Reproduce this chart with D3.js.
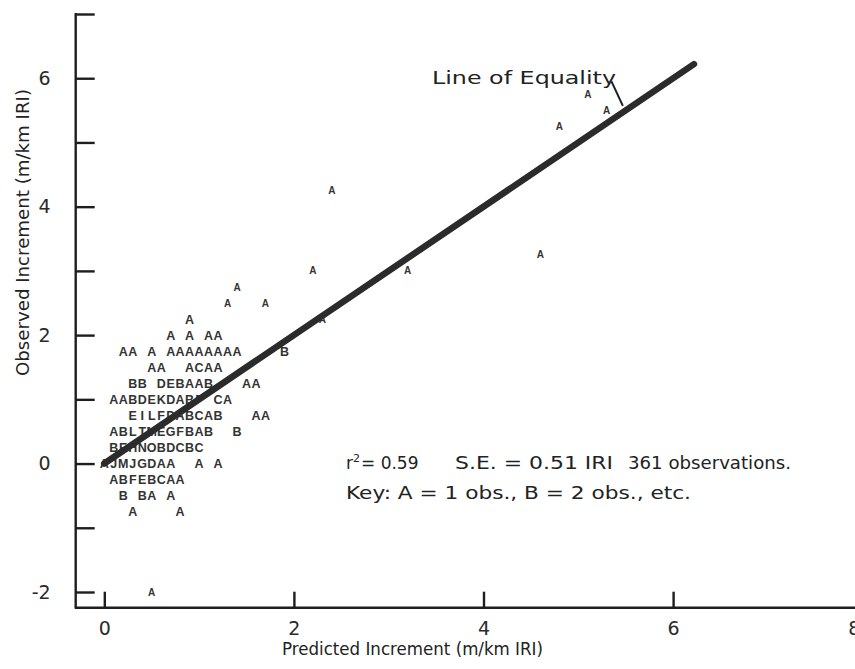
<!DOCTYPE html>
<html><head><meta charset="utf-8">
<script src="https://cdn.jsdelivr.net/npm/d3@7"></script>
<style>body{margin:0;background:#fff} svg{display:block}</style>
</head><body><svg id="c" width="855" height="669"></svg>
<script>
// ---- data ----
const xTickValues = [0, 2, 4, 6, 8];
const xTickLabels = ["0", "2", "4", "6", "8"];
const yTickValues = [-2, -1, 0, 1, 2, 3, 4, 5, 6, 7];
const yTickLabels = ["-2", "", "0", "", "2", "", "4", "", "6", ""];
// line-printer rows: observed value, predicted value of first column, codes (space = empty cell, column step 0.1)
const rowObserved = [2.75, 2.5, 2.25, 2.0, 1.75, 1.5, 1.25, 1.0, 0.75, 0.5, 0.25, 0.0, -0.25, -0.5, -0.75, -2.0];
const rowStartPredicted = [1.4, 1.3, 0.9, 0.7, 0.2, 0.5, 0.3, 0.1, 0.3, 0.1, 0.1, 0.0, 0.1, 0.2, 0.3, 0.5];
const rowCodes = ["A", "A   A", "A", "A A AA", "AA A AAAAAAAA    B", "AA  ACAA", "BB DEBAAB   AA",
  "AABDEKDABF CA", "EILFDABCAB   AA", "ABLTMEGFBAB  B", "BEHNOBDCBC", "AJMJGDAA  A A",
  "ABFEBCAA", "B BA A", "A    A", "A"];
const columnStep = 0.1;
// isolated points
const outlierPredicted = [2.3, 2.2, 3.2, 2.4, 4.6, 4.8, 5.3, 5.1];
const outlierObserved = [2.25, 3.0, 3.0, 4.25, 3.25, 5.25, 5.5, 5.75];
const outlierCodes = ["A", "A", "A", "A", "A", "A", "A", "A"];
const equalityEnds = [0, 6.22];

// ---- chart ----
const svg = d3.select("#c");
const x = d3.scaleLinear().domain([0, 8]).range([104.3, 862.7]);
const y = d3.scaleLinear().domain([-2, 7]).range([592, 14]);
const axisX = 75.7, axisY = 607.7;
const ink = "#1e1e1e";
const labelFont = "'DejaVu Sans', sans-serif";

// axis lines
svg.append("line").attr("x1", axisX).attr("x2", axisX).attr("y1", y(7) - 1).attr("y2", axisY)
  .attr("stroke", ink).attr("stroke-width", 2.4);
svg.append("line").attr("x1", axisX - 1).attr("x2", 855).attr("y1", axisY).attr("y2", axisY)
  .attr("stroke", ink).attr("stroke-width", 2.4);

// y axis ticks (pointing inward)
const yAxis = d3.axisLeft(y).tickValues(yTickValues)
  .tickFormat((d, i) => yTickLabels[i]).tickSizeInner(-19).tickSizeOuter(0).tickPadding(25);
const gy = svg.append("g").attr("transform", `translate(${axisX},0)`).call(yAxis);
gy.select(".domain").remove();
gy.selectAll(".tick line").attr("stroke", ink).attr("stroke-width", 2.4);
gy.selectAll(".tick text").attr("fill", "#2a2a2a").style("font-family", labelFont).style("font-size", "19px");

// x axis ticks (pointing inward)
const xAxis = d3.axisBottom(x).tickValues(xTickValues)
  .tickFormat((d, i) => xTickLabels[i]).tickSizeInner(-16).tickSizeOuter(0).tickPadding(14);
const gx = svg.append("g").attr("transform", `translate(0,${axisY})`).call(xAxis);
gx.select(".domain").remove();
gx.selectAll(".tick line").attr("stroke", ink).attr("stroke-width", 2.4);
gx.selectAll(".tick text").attr("fill", "#2a2a2a").style("font-family", labelFont).style("font-size", "19px")
  .attr("dx", d => d === 8 ? -9 : 0);

// letter marks
const cells = [];
rowCodes.forEach((codes, r) => {
  const small = rowObserved[r] >= 2.5 || rowObserved[r] <= -2;
  codes.split("").forEach((ch, c) => {
    if (ch !== " ") cells.push({p: rowStartPredicted[r] + c * columnStep, o: rowObserved[r], code: ch, small});
  });
});
outlierCodes.forEach((ch, i) => cells.push({p: outlierPredicted[i], o: outlierObserved[i], code: ch, small: true}));

svg.append("g").selectAll("text").data(cells).join("text")
  .attr("x", d => x(d.p)).attr("y", d => y(d.o)).attr("dy", "0.36em")
  .attr("text-anchor", "middle")
  .style("font-family", "'Liberation Sans Narrow', 'Liberation Sans', sans-serif")
  .style("font-weight", "bold")
  .style("font-size", d => d.small ? "10px" : "12.5px")
  .attr("fill", "#333")
  .text(d => d.code);

// line of equality
svg.append("line")
  .attr("x1", x(equalityEnds[0])).attr("y1", y(equalityEnds[0]))
  .attr("x2", x(equalityEnds[1])).attr("y2", y(equalityEnds[1]))
  .attr("stroke", "#2b2b2b").attr("stroke-width", 6.5).attr("stroke-linecap", "round");

// annotation
svg.append("text").attr("x", 432).attr("y", 84).attr("textLength", 184).attr("lengthAdjust", "spacingAndGlyphs")
  .style("font-family", labelFont).style("font-size", "17px").attr("fill", "#222").text("Line of Equality");
svg.append("line").attr("x1", x(5.35)).attr("y1", y(5.95)).attr("x2", x(5.47)).attr("y2", y(5.57))
  .attr("stroke", ink).attr("stroke-width", 2);

// stats
const stat = (tx, ty, w, s) => svg.append("text").attr("x", tx).attr("y", ty)
  .attr("textLength", w).attr("lengthAdjust", "spacingAndGlyphs")
  .style("font-family", labelFont).style("font-size", "17px").attr("fill", "#222").text(s);
const r2 = svg.append("text").attr("x", 346).attr("y", 469)
  .style("font-family", labelFont).style("font-size", "17px").attr("fill", "#222");
r2.append("tspan").text("r");
r2.append("tspan").attr("dy", -7).style("font-size", "11px").text("2");
r2.append("tspan").attr("dy", 7).attr("dx", 1).text("= 0.59");
stat(455, 469, 158, "S.E. = 0.51 IRI");
stat(628, 469, 163, "361 observations.");
stat(346, 499, 345, "Key: A = 1 obs., B = 2 obs., etc.");

// axis titles
svg.append("text").attr("x", 412.5).attr("y", 655).attr("text-anchor", "middle")
  .attr("textLength", 261).attr("lengthAdjust", "spacingAndGlyphs")
  .style("font-family", labelFont).style("font-size", "17px").attr("fill", "#222")
  .text("Predicted Increment (m/km IRI)");
svg.append("text").attr("transform", "translate(29,232.5) rotate(-90)").attr("text-anchor", "middle")
  .attr("textLength", 287).attr("lengthAdjust", "spacingAndGlyphs")
  .style("font-family", labelFont).style("font-size", "17px").attr("fill", "#222")
  .text("Observed Increment (m/km IRI)");
</script></body></html>
